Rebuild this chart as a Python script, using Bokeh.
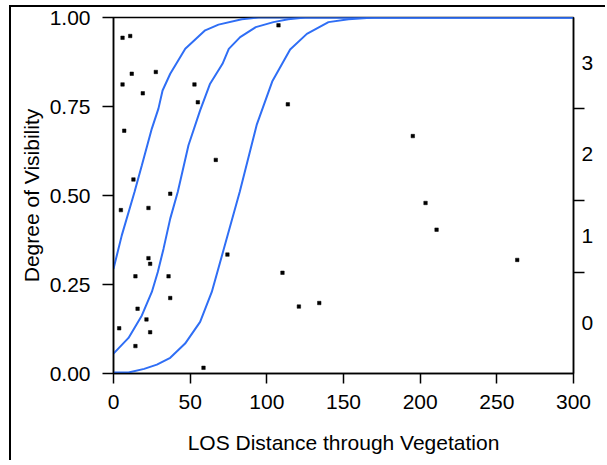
from bokeh.plotting import figure
from bokeh.models import Range1d, LinearAxis, FixedTicker, PrintfTickFormatter
from bokeh.embed import file_html
from bokeh.resources import INLINE

# ---- data ----
pts_x = [5.9, 10.9, 11.9, 27.6, 5.9, 19.1, 52.8, 55.0, 7.0, 66.7, 13.0, 37.0,
         4.8, 22.8, 22.8, 23.9, 14.3, 35.9, 37.0, 15.7, 21.5, 3.7, 23.9, 14.3, 58.7,
         107.6, 113.7, 74.3, 110.2, 120.9, 134.2,
         195.2, 203.5, 210.7, 263.3]
pts_y = [0.943, 0.948, 0.842, 0.847, 0.812, 0.787, 0.812, 0.762, 0.682, 0.600, 0.545, 0.505,
         0.459, 0.465, 0.324, 0.308, 0.273, 0.273, 0.212, 0.182, 0.152, 0.127, 0.116, 0.077, 0.016,
         0.978, 0.756, 0.334, 0.283, 0.188, 0.198,
         0.667, 0.479, 0.404, 0.319]

curve1_x = [0, 5.4, 13.7, 18.5, 25, 29.3, 32, 37, 46.8, 59.8, 68.5, 83.7, 94.6, 300]
curve1_y = [0.294, 0.388, 0.51, 0.585, 0.688, 0.744, 0.795, 0.842, 0.912, 0.964, 0.98, 0.995, 1.0, 1.0]

curve2_x = [0, 9.8, 18.5, 25, 28.9, 32.6, 37, 41.9, 48.9, 56.5, 63, 71.1, 75.2, 82.6, 92.8, 104.3, 114, 125, 300]
curve2_y = [0.056, 0.10, 0.163, 0.229, 0.285, 0.35, 0.435, 0.51, 0.641, 0.739, 0.814, 0.87, 0.912, 0.945, 0.973, 0.987, 0.995, 1.0, 1.0]

curve3_x = [0, 9.8, 20, 28.3, 37, 46.7, 56.5, 64.1, 71.7, 82.3, 93.5, 103.5, 115.2, 126.1, 140.2, 153.3, 170, 300]
curve3_y = [0.003, 0.003, 0.013, 0.025, 0.044, 0.084, 0.145, 0.229, 0.346, 0.51, 0.70, 0.82, 0.91, 0.954, 0.987, 0.995, 1.0, 1.0]

x_ticks = [0, 50, 100, 150, 200, 250, 300]
y_ticks = [0.0, 0.25, 0.5, 0.75, 1.0]
right_bounds = [0.285, 0.487, 0.745]
right_labels = ["0", "1", "2", "3"]

FONT = "Liberation Sans"
FS = "21px"
BLUE = "#2f6ef5"

edges = [0.0] + right_bounds + [1.0]
right_mid = [round((edges[i] + edges[i + 1]) / 2, 4) for i in range(len(right_labels))]

p = figure(width=596, height=455, x_range=Range1d(0, 300), y_range=Range1d(0, 1),
           output_backend="svg", toolbar_location=None,
           min_border_left=102, min_border_top=10, min_border_right=34, min_border_bottom=89)
p.styles = {"margin-left": "9px", "margin-top": "5px",
            "border-left": "2px solid black", "border-top": "2px solid black"}
p.xgrid.visible = False
p.ygrid.visible = False
p.outline_line_color = "black"
p.outline_line_width = 1.5
p.outline_line_alpha = 1.0
p.background_fill_color = "white"
p.border_fill_color = "white"

for cx, cy in [(curve1_x, curve1_y), (curve2_x, curve2_y), (curve3_x, curve3_y)]:
    p.line(cx, cy, line_color=BLUE, line_width=2)

p.scatter(pts_x, pts_y, marker="square", size=3.5, fill_color="black", line_color="black", line_width=0.5)

def style_axis(ax):
    ax.axis_line_color = "black"
    ax.axis_line_width = 1.5
    ax.major_tick_line_color = "black"
    ax.major_tick_line_width = 1.5
    ax.major_tick_in = 0
    ax.minor_tick_line_color = None
    ax.major_label_text_font = FONT
    ax.major_label_text_font_size = FS
    ax.major_label_text_color = "black"
    ax.axis_label_text_font = FONT
    ax.axis_label_text_font_size = FS
    ax.axis_label_text_font_style = "normal"
    ax.axis_label_text_color = "black"

xa = p.xaxis[0]
style_axis(xa)
xa.ticker = FixedTicker(ticks=x_ticks)
xa.major_tick_out = 10
xa.major_label_standoff = 11
xa.axis_label = "LOS Distance through Vegetation"
xa.axis_label_standoff = 19

ya = p.yaxis[0]
style_axis(ya)
ya.ticker = FixedTicker(ticks=y_ticks)
ya.formatter = PrintfTickFormatter(format="%.2f")
ya.major_tick_out = 11
ya.major_label_standoff = 12
ya.axis_label = "Degree of Visibility"
ya.axis_label_standoff = 4

p.extra_y_ranges = {"r": Range1d(0, 1)}
ra = LinearAxis(y_range_name="r", ticker=FixedTicker(ticks=right_mid, minor_ticks=right_bounds))
style_axis(ra)
ra.major_tick_out = 0
ra.major_tick_line_color = None
ra.minor_tick_line_color = "black"
ra.minor_tick_line_width = 1.5
ra.minor_tick_in = 0
ra.minor_tick_out = 11
ra.major_label_standoff = -3
ra.major_label_overrides = {m: l for m, l in zip(right_mid, right_labels)}
p.add_layout(ra, "right")

open("out.html", "w").write(file_html(p, INLINE))
